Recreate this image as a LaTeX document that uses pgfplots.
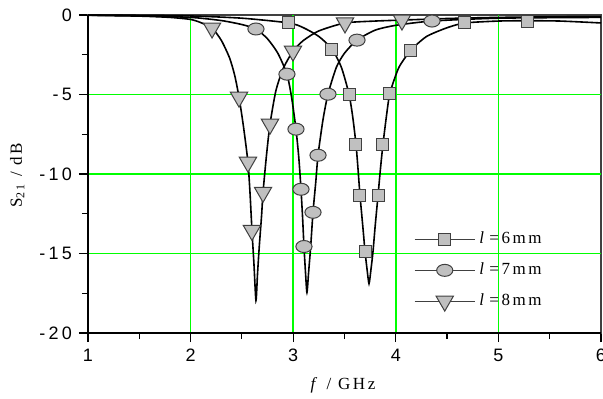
\documentclass[border=0pt]{standalone}
\usepackage{pgfplots}
\pgfplotsset{compat=1.18}
\usepackage{fontspec}
\setmainfont{Liberation Serif}
\newfontfamily\tickfont[LetterSpace=18]{Liberation Sans}
\newfontfamily\spacedserif[LetterSpace=15]{Liberation Serif}
\definecolor{mgray}{HTML}{C0C0C0}
\definecolor{edge}{HTML}{404040}
\definecolor{grn}{HTML}{00FF00}

\pgfplotstableread{
f S
1.0 -0.02
1.5 -0.07
1.8 -0.15
2.0 -0.28
2.1 -0.48
2.209 -0.82
2.30 -1.6
2.38 -2.7
2.43 -3.8
2.472 -5.17
2.515 -7.0
2.559 -9.26
2.58 -11.3
2.598 -13.55
2.617 -15.6
2.637 -17.96
2.652 -16.3
2.67 -14.5
2.692 -12.6
2.706 -11.15
2.74 -8.8
2.774 -6.87
2.83 -4.8
2.90 -3.4
2.998 -2.27
3.10 -1.6
3.25 -1.0
3.505 -0.5
3.80 -0.38
4.06 -0.32
4.5 -0.22
5.0 -0.15
5.5 -0.12
6.0 -0.1
}\curveeight

\pgfplotstableread{
f S
2.209 -0.82
2.472 -5.17
2.559 -9.26
2.598 -13.55
2.706 -11.15
2.774 -6.87
2.998 -2.27
3.505 -0.50
4.060 -0.32
}\markeight

\pgfplotstableread{
f S
1.0 -0.01
1.5 -0.05
2.0 -0.15
2.3 -0.35
2.5 -0.6
2.637 -0.88
2.75 -1.5
2.85 -2.4
2.939 -3.72
2.985 -5.2
3.027 -7.18
3.055 -9.0
3.076 -10.96
3.092 -12.8
3.105 -14.56
3.12 -16.2
3.134 -17.45
3.15 -16.2
3.17 -14.6
3.193 -12.41
3.22 -10.5
3.242 -8.82
3.29 -6.6
3.339 -4.98
3.42 -3.3
3.5 -2.4
3.622 -1.58
3.8 -0.95
4.0 -0.65
4.353 -0.38
5.0 -0.2
6.0 -0.15
}\curveseven

\pgfplotstableread{
f S
2.637 -0.88
2.939 -3.72
3.027 -7.18
3.076 -10.96
3.105 -14.56
3.193 -12.41
3.242 -8.82
3.339 -4.98
3.622 -1.58
4.353 -0.38
}\markseven

\pgfplotstableread{
f S
1.0 -0.01
1.5 -0.02
2.0 -0.06
2.5 -0.2
2.959 -0.50
3.1 -0.8
3.25 -1.35
3.378 -2.14
3.47 -3.3
3.544 -4.98
3.58 -6.4
3.612 -8.13
3.632 -9.7
3.651 -11.34
3.68 -13.4
3.700 -14.87
3.72 -16.0
3.739 -16.89
3.758 -16.0
3.778 -14.87
3.80 -13.2
3.827 -11.34
3.85 -9.7
3.875 -8.13
3.91 -6.3
3.943 -4.91
4.03 -3.3
4.148 -2.21
4.3 -1.35
4.5 -0.8
4.674 -0.50
5.0 -0.38
5.279 -0.36
5.6 -0.38
6.0 -0.5
}\curvesix

\pgfplotstableread{
f S
2.959 -0.50
3.378 -2.14
3.544 -4.98
3.612 -8.13
3.651 -11.34
3.700 -14.87
3.827 -11.34
3.875 -8.13
3.943 -4.91
4.148 -2.21
4.674 -0.50
5.279 -0.38
}\marksix

\begin{document}
\begin{tikzpicture}
\begin{axis}[
  scale only axis, width=256.5pt, height=159pt,
  xmin=1, xmax=6, ymin=-20, ymax=0,
  clip=false,
  xtick={1,2,3,4,5,6}, xticklabels={1,2,3,4,5,6},
  ytick={-20,-15,-10,-5,0}, yticklabels={-20,-15,-10,-5,0},
  minor x tick num=1, minor y tick num=1,
  tick pos=left, tick align=outside,
  major tick length=4.5pt, minor tick length=3pt,
  tick style={black, line width=0.6pt},
  grid=none,
  major grid style={grn, line width=0.75pt},
  extra x ticks={2,3,4,5}, extra x tick labels={},
  extra y ticks={-15,-10,-5}, extra y tick labels={},
  extra tick style={grid=major, major tick length=0pt},
  ticklabel style={font=\fontsize{9}{10}\selectfont\tickfont},
  axis line style={edge, line width=0.6pt},
  xlabel={\textit{f} / GHz},
  ylabel={S\textsubscript{21} / dB},
  label style={font=\fontsize{8.5}{10}\selectfont\spacedserif},
  xlabel style={at={(axis description cs:0.497,-0.164)}, anchor=center},
  ylabel style={at={(axis description cs:-0.138,0.496)}, anchor=center},
  legend style={draw=none, fill=none, at={(rel axis cs:0.635,0.331)}, anchor=north west,
     font=\fontsize{8.5}{10}\selectfont\spacedserif, row sep=4pt, inner sep=0pt},
  legend cell align=left,
  legend image code/.code={\draw[mark repeat=2,mark phase=2,#1] plot coordinates {(0pt,0pt) (15pt,0pt) (30pt,0pt)};},
]
\addplot[black, line width=0.8pt, smooth, tension=0.4, forget plot] table[x=f,y=S] {\curvesix};
\addplot[black, line width=0.8pt, smooth, tension=0.4, forget plot] table[x=f,y=S] {\curveseven};
\addplot[black, line width=0.8pt, smooth, tension=0.4, forget plot] table[x=f,y=S] {\curveeight};
\addplot[only marks, mark=square*, mark size=3pt, mark options={fill=mgray, draw=edge, line width=0.5pt}, forget plot] table[x=f,y=S] {\marksix};
\addplot[only marks, mark=*, mark size=3pt, mark options={fill=mgray, draw=edge, line width=0.5pt, xscale=1.35}, forget plot] table[x=f,y=S] {\markseven};
\addplot[only marks, mark=triangle*, mark size=5pt, mark options={fill=mgray, draw=edge, line width=0.5pt, rotate=180}, forget plot] table[x=f,y=S] {\markeight};
\addlegendimage{edge, line width=0.6pt, mark=square*, mark size=3pt, mark options={fill=mgray, draw=edge, line width=0.5pt}}
\addlegendentry{\textit{l}\,=6mm}
\addlegendimage{edge, line width=0.6pt, mark=*, mark size=3pt, mark options={fill=mgray, draw=edge, line width=0.5pt, xscale=1.35}}
\addlegendentry{\textit{l}\,=7mm}
\addlegendimage{edge, line width=0.6pt, mark=triangle*, mark size=5pt, mark options={fill=mgray, draw=edge, line width=0.5pt, rotate=180}}
\addlegendentry{\textit{l}\,=8mm}
\draw[black, line width=0.6pt] (rel axis cs:0,1) -- (rel axis cs:0,0) -- (rel axis cs:1,0);
\coordinate (SW) at (rel axis cs:0,0);
\coordinate (NE) at (rel axis cs:1,1);
\end{axis}
\pgfresetboundingbox
\path ([shift={(-44pt,-32.6pt)}]SW) rectangle ([shift={(1pt,7.5pt)}]NE);
\end{tikzpicture}
\end{document}
